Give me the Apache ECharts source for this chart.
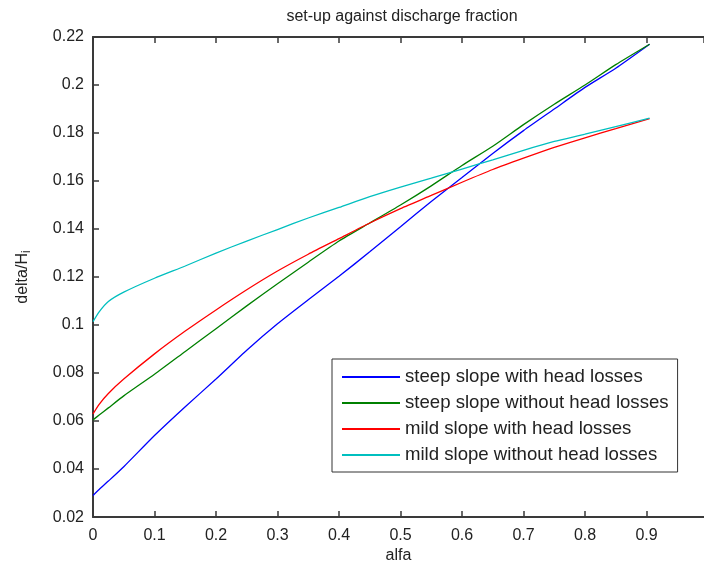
<!DOCTYPE html>
<html>
<head>
<meta charset="utf-8">
<script src="https://cdn.jsdelivr.net/npm/echarts@6/dist/echarts.min.js"></script>
<style>
html,body{margin:0;padding:0;background:#fff;}
#c{width:704px;height:569px;}
</style>
</head>
<body>
<div id="c"></div>
<script>
const alfa = [0, 0.01, 0.025, 0.05, 0.1, 0.15, 0.2, 0.25, 0.3, 0.35, 0.4, 0.45, 0.5, 0.55, 0.6, 0.65, 0.7, 0.75, 0.8, 0.85, 0.905];
const steepWithLoss = [0.029, 0.0315, 0.035, 0.041, 0.054, 0.066, 0.0775, 0.0895, 0.1005, 0.1105, 0.1203, 0.1305, 0.141, 0.1515, 0.1615, 0.1715, 0.181, 0.190, 0.199, 0.207, 0.217];
const steepNoLoss = [0.0605, 0.0625, 0.0655, 0.0705, 0.0795, 0.089, 0.0985, 0.108, 0.1172, 0.1262, 0.135, 0.1425, 0.150, 0.158, 0.1665, 0.1745, 0.1835, 0.192, 0.200, 0.2085, 0.217];
const mildWithLoss = [0.063, 0.067, 0.0715, 0.0775, 0.088, 0.0975, 0.1063, 0.1147, 0.1225, 0.1295, 0.136, 0.1425, 0.1485, 0.154, 0.1595, 0.1648, 0.1695, 0.174, 0.178, 0.1818, 0.186];
const mildNoLoss = [0.1014, 0.1055, 0.1098, 0.1137, 0.1195, 0.1246, 0.130, 0.135, 0.1398, 0.1446, 0.149, 0.1535, 0.1575, 0.1612, 0.165, 0.1688, 0.1728, 0.1765, 0.1795, 0.1827, 0.1862];
const seriesNames = ['steep slope with head losses', 'steep slope without head losses', 'mild slope with head losses', 'mild slope without head losses'];
const seriesValues = [steepWithLoss, steepNoLoss, mildWithLoss, mildNoLoss];
const seriesColors = ['#0000ff', '#008000', '#ff0000', '#00bfbf'];
const xTicks = [0, 0.1, 0.2, 0.3, 0.4, 0.5, 0.6, 0.7, 0.8, 0.9];
const yTicks = [0.02, 0.04, 0.06, 0.08, 0.1, 0.12, 0.14, 0.16, 0.18, 0.2, 0.22];

const FONT = '"Liberation Sans", Arial, sans-serif';
const AX = '#3a3a3a';
const chart = echarts.init(document.getElementById('c'), null, {renderer: 'canvas'});
const fmt = v => String(parseFloat(v.toFixed(2)));

chart.setOption({
  animation: false,
  backgroundColor: '#ffffff',
  title: {
    text: 'set-up against discharge fraction',
    left: 397, top: 4, textAlign: 'center',
    textStyle: {fontFamily: FONT, fontSize: 16, fontWeight: 'normal', color: '#222'}
  },
  grid: {left: 93, top: 37, bottom: 48, right: 0, containLabel: false},
  legend: {
    orient: 'vertical',
    left: 332, top: 359,
    data: seriesNames,
    icon: 'rect',
    itemWidth: 58, itemHeight: 2,
    itemGap: 6,
    padding: [8, 9, 7, 10],
    borderColor: '#333', borderWidth: 1,
    backgroundColor: '#fff',
    textStyle: {fontFamily: FONT, fontSize: 18.6, color: '#222', lineHeight: 20}
  },
  xAxis: [{
    type: 'value', min: 0, max: 0.9935, interval: 0.1,
    name: 'alfa', nameLocation: 'middle', nameGap: 30,
    nameTextStyle: {fontFamily: FONT, fontSize: 16, color: '#222'},
    axisLine: {show: true, lineStyle: {color: AX, width: 2}},
    axisTick: {show: true, inside: true, length: 6, lineStyle: {color: AX, width: 1.5}},
    axisLabel: {
      fontFamily: FONT, fontSize: 16, color: '#222', margin: 10,
      showMaxLabel: false,
      formatter: v => xTicks.some(t => Math.abs(t - v) < 1e-9) ? fmt(v) : ''
    },
    splitLine: {show: false}
  }, {
    type: 'value', position: 'top', min: 0, max: 0.9935, interval: 0.1,
    axisLine: {show: true, lineStyle: {color: AX, width: 2}},
    axisTick: {show: true, inside: true, length: 6, lineStyle: {color: AX, width: 1.5}},
    axisLabel: {show: false},
    splitLine: {show: false}
  }],
  yAxis: {
    type: 'value', min: 0.02, max: 0.22, interval: 0.02,
    name: 'delta/H{sub|i}', nameLocation: 'middle', nameGap: 60, nameRotate: 90,
    nameTextStyle: {
      fontFamily: FONT, fontSize: 16, color: '#222',
      rich: {sub: {fontFamily: FONT, fontSize: 12, color: '#222', verticalAlign: 'bottom', padding: [8, 0, 0, 0]}}
    },
    axisLine: {show: true, lineStyle: {color: AX, width: 2}},
    axisTick: {show: true, inside: true, length: 6, lineStyle: {color: AX, width: 1.5}},
    axisLabel: {
      fontFamily: FONT, fontSize: 16, color: '#222', margin: 9,
      formatter: v => yTicks.some(t => Math.abs(t - v) < 1e-9) ? fmt(v) : ''
    },
    splitLine: {show: false}
  },
  series: seriesNames.map((n, k) => ({
    name: n,
    type: 'line',
    xAxisIndex: 0,
    showSymbol: false,
    smooth: 0.2,
    color: seriesColors[k],
    lineStyle: {width: 1.3, color: seriesColors[k]},
    data: alfa.map((x, i) => [x, seriesValues[k][i]])
  }))
});
</script>
</body>
</html>
